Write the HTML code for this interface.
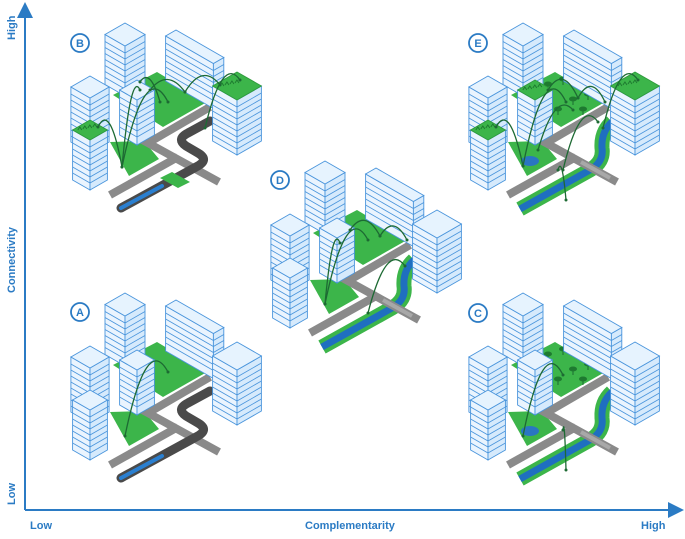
<!DOCTYPE html>
<html><head><meta charset="utf-8"><style>
html,body{margin:0;padding:0;background:#fff;}
svg{display:block;}
text{font-family:"Liberation Sans",sans-serif;font-weight:bold;fill:#2b7bc4;}
</style></head><body>
<svg id="s" width="685" height="539" viewBox="0 0 685 539" xmlns="http://www.w3.org/2000/svg">
<defs><marker id="ar" markerWidth="8" markerHeight="8" refX="4" refY="4" orient="auto"><path d="M0,0 L8,4 L0,8 z" fill="#2b7bc4"/></marker></defs>
<line x1="25" y1="510" x2="25" y2="10" stroke="#2b7bc4" stroke-width="2" marker-end="url(#ar)"/>
<line x1="25" y1="510" x2="676" y2="510" stroke="#2b7bc4" stroke-width="2" marker-end="url(#ar)"/>
<text transform="translate(15,40) rotate(-90)" font-size="11">High</text>
<text transform="translate(15,293) rotate(-90)" font-size="11">Connectivity</text>
<text transform="translate(15,505) rotate(-90)" font-size="11">Low</text>
<text x="30" y="529" font-size="11">Low</text>
<text x="305" y="529" font-size="11">Complementarity</text>
<text x="641" y="529" font-size="11">High</text>
<g id="scenes"></g>
<g font-size="11">
<circle cx="80" cy="312" r="9" fill="#fff" stroke="#2b7bc4" stroke-width="1.8"/><text x="80" y="316" text-anchor="middle">A</text>
<circle cx="80" cy="43" r="9" fill="#fff" stroke="#2b7bc4" stroke-width="1.8"/><text x="80" y="47" text-anchor="middle">B</text>
<circle cx="280" cy="180" r="9" fill="#fff" stroke="#2b7bc4" stroke-width="1.8"/><text x="280" y="184" text-anchor="middle">D</text>
<circle cx="478" cy="43" r="9" fill="#fff" stroke="#2b7bc4" stroke-width="1.8"/><text x="478" y="47" text-anchor="middle">E</text>
<circle cx="478" cy="313" r="9" fill="#fff" stroke="#2b7bc4" stroke-width="1.8"/><text x="478" y="317" text-anchor="middle">C</text>
</g>
</svg>
<script>
var NS="http://www.w3.org/2000/svg";
var root=document.getElementById("scenes");
function el(p,t,a){var e=document.createElementNS(NS,t);for(var k in a)e.setAttribute(k,a[k]);p.appendChild(e);return e;}
function pts(a){return a.map(function(p){return p[0].toFixed(1)+","+p[1].toFixed(1)}).join(" ");}
function bld(g,cx,cy,a,b,h,roof){
 var ux=0.87,uy=0.5;
 var P0=[cx,cy],P1=[cx+a*ux,cy+a*uy],P3=[cx-b*ux,cy+b*uy],P2=[P1[0]-b*ux,P1[1]+b*uy];
 function d(p){return [p[0],p[1]+h];}
 el(g,"polygon",{points:pts([P3,P2,d(P2),d(P3)]),fill:"#eaf4fe",stroke:"#4a95dc","stroke-width":0.9});
 el(g,"polygon",{points:pts([P2,P1,d(P1),d(P2)]),fill:"#d6eafc",stroke:"#4a95dc","stroke-width":0.9});
 for(var y=7;y<h-2;y+=6){
  el(g,"polyline",{points:pts([[P3[0],P3[1]+y],[P2[0],P2[1]+y],[P1[0],P1[1]+y]]),fill:"none",stroke:"#4a95dc","stroke-width":0.8});
 }
 el(g,"polygon",{points:pts([P0,P1,P2,P3]),fill:roof?"#3cb54a":"#e6f3fe",stroke:roof?"#2f9a3d":"#4a95dc","stroke-width":0.9});
 if(roof){for(var i=0;i<4;i++){var x=P3[0]+(P2[0]-P3[0])*0.3+i*5,yy=P0[1]+(P2[1]-P0[1])*0.5-i*1;el(g,"path",{d:"M"+x+","+yy+" l2,-3 l2,3",stroke:"#1e7a30",fill:"none","stroke-width":1});}}
}
function arc(g,x1,y1,x2,y2,hh){var mx=(x1+x2)/2,my=Math.min(y1,y2)-hh;
 el(g,"path",{d:"M"+x1+","+y1+" Q"+mx+","+my+" "+x2+","+y2,fill:"none",stroke:"#1d6a33","stroke-width":1.3});
 el(g,"circle",{cx:x1,cy:y1,r:1.5,fill:"#1d6a33"});el(g,"circle",{cx:x2,cy:y2,r:1.5,fill:"#1d6a33"});}
function tree(g,x,y){el(g,"path",{d:"M"+x+","+y+" l0,-5",stroke:"#1d6a33","stroke-width":1});el(g,"ellipse",{cx:x,cy:y-6,rx:4,ry:2.5,fill:"#1e7a30"});}
function scene(dx,dy,o){
 var g=el(root,"g",{transform:"translate("+dx+","+dy+")"});
 el(g,"polygon",{points:pts([[113,365],[157,342],[207,372],[163,397]]),fill:"#3cb54a"});
 el(g,"polygon",{points:pts([[110,412],[144,411],[159,429],[129,446]]),fill:"#3cb54a"});
 if(o.pond)el(g,"ellipse",{cx:132,cy:431,rx:9,ry:5,fill:"#2a76c2"});
 if(o.trees){[[150,360],[165,355],[175,375],[190,370],[160,385],[185,385],[200,368]].forEach(function(t){tree(g,t[0],t[1]);});}
 // river or pipe
 var rp="M122,479 L192,440 Q206,432 204,418 Q203,402 214,392";
 if(o.river){
  el(g,"path",{d:rp,fill:"none",stroke:"#3cb54a","stroke-width":15});
  el(g,"path",{d:rp,fill:"none",stroke:"#1f6fc0","stroke-width":7});
 }
 // roads
 el(g,"polyline",{points:pts([[110,465],[178,427]]),fill:"none",stroke:"#8a8a8a","stroke-width":8});
 el(g,"polyline",{points:pts([[210,377],[148,413],[219,452]]),fill:"none",stroke:"#8a8a8a","stroke-width":8,"stroke-linejoin":"miter"});
 if(o.river)el(g,"polyline",{points:pts([[183,432],[212,448]]),fill:"none",stroke:"#a8a8a8","stroke-width":4});
 if(!o.river){
  el(g,"path",{d:"M121,478 L196,437 Q210,430 198,423 L186,416 Q176,409 188,403 L210,391",fill:"none",stroke:"#4a4a4a","stroke-width":9,"stroke-linecap":"round"});
  el(g,"path",{d:"M121,478 L162,456",stroke:"#2a7fd0","stroke-width":4,"stroke-linecap":"round"});
 }
 if(o.patch)el(g,"polygon",{points:pts([[160,448],[172,442],[190,452],[178,458]]),fill:"#3cb54a"});
 bld(g,125,293,23,23,50,false);
 bld(g,176,300,55,12,45,false);
 bld(g,237,342,28,28,55,o.roofR);
 bld(g,90,346,22,22,55,false);
 bld(g,137,350,20,20,45,o.roofM);
 bld(g,90,390,20,20,50,o.roofL);
 (o.arcs||[]).forEach(function(a){arc(g,a[0],a[1],a[2],a[3],a[4]);});
}
scene(0,0,{arcs:[[125,436,168,372,40]]});
scene(0,-270,{patch:true,roofR:true,roofL:true,arcs:[[122,437,168,372,45],[122,437,98,397,25],[150,360,185,362,22],[185,362,220,355,22],[140,352,160,372,15],[205,398,240,350,25],[122,437,140,360,20]]});
scene(200,-132,{river:true,arcs:[[125,436,168,372,40],[125,436,140,375,20],[150,362,180,368,22],[180,368,207,372,22],[168,445,205,398,25]]});
scene(398,-270,{river:true,pond:true,trees:true,roofR:true,roofL:true,roofM:true,arcs:[[125,436,168,372,45],[125,436,98,397,25],[150,360,180,368,25],[180,368,207,372,25],[165,440,200,392,25],[205,398,240,350,25],[140,420,175,380,20],[168,470,160,440,15]]});
scene(398,0,{river:true,pond:true,trees:true,arcs:[[125,436,165,375,40],[168,470,165,430,15]]});
</script>
</body></html>
